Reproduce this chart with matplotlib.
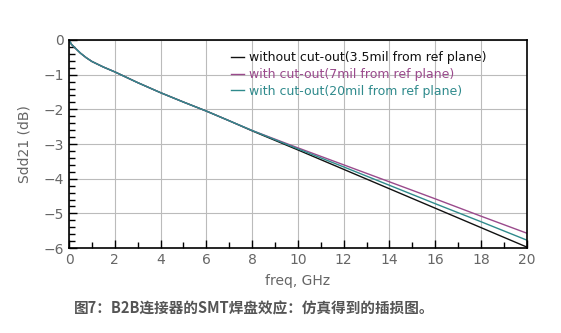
import matplotlib
matplotlib.use('Agg')
import matplotlib.pyplot as plt
from matplotlib.ticker import MultipleLocator

freq = [0, 0.1, 0.25, 0.5, 0.75, 1, 1.5, 2, 3, 4, 5, 6, 7, 8, 10, 12, 14, 16, 18, 20]
no_cut = [0, -0.12, -0.22, -0.38, -0.51, -0.62, -0.78, -0.92, -1.23, -1.52, -1.79, -2.05, -2.33,
          -2.62, -3.17, -3.73, -4.29, -4.85, -5.41, -5.97]
cut_7mil = [0, -0.12, -0.22, -0.38, -0.51, -0.62, -0.78, -0.92, -1.23, -1.52, -1.79, -2.05, -2.33,
            -2.61, -3.11, -3.60, -4.09, -4.58, -5.08, -5.57]
cut_20mil = [0, -0.12, -0.22, -0.38, -0.51, -0.62, -0.78, -0.92, -1.23, -1.52, -1.79, -2.05, -2.33,
             -2.61, -3.14, -3.66, -4.19, -4.72, -5.24, -5.77]
labels = ['without cut-out(3.5mil from ref plane)',
          'with cut-out(7mil from ref plane)',
          'with cut-out(20mil from ref plane)']
colors = ['#111111', '#9a4a8c', '#2f8a8c']
caption = '图7：B2B连接器的SMT焊盘效应：仿真得到的插损图。'

fig = plt.figure(figsize=(5.61, 3.33), dpi=100)
ax = fig.add_axes([0.123, 0.255, 0.816, 0.625])

for y, c, lab in zip([no_cut, cut_7mil, cut_20mil], colors, labels):
    ax.plot(freq, y, color=c, lw=1.0, label=lab)

ax.set_xlim(0, 20)
ax.set_ylim(-6, 0)
ax.xaxis.set_major_locator(MultipleLocator(2))
ax.xaxis.set_minor_locator(MultipleLocator(1))
ax.yaxis.set_major_locator(MultipleLocator(1))
ax.yaxis.set_minor_locator(MultipleLocator(0.2))
ax.grid(True, which='major', color='#bbbbbb', lw=0.8)
ax.tick_params(which='both', direction='in', colors='black', labelcolor='#666666',
               labelsize=10, top=False, right=False)
ax.tick_params(which='major', length=6, width=1)
ax.tick_params(which='minor', length=4, width=1)
for s in ax.spines.values():
    s.set_linewidth(1.2)

ax.set_xlabel('freq, GHz', color='#666666', fontsize=10, labelpad=5)
ax.set_ylabel('Sdd21 (dB)', color='#666666', fontsize=10, labelpad=9)

leg = ax.legend(loc='upper left', bbox_to_anchor=(0.33, 1.0), frameon=False,
                fontsize=9, handlelength=1.0, handletextpad=0.4, labelspacing=0.3)
for t, c in zip(leg.get_texts(), colors):
    t.set_color(c)

fig.text(0.453, 0.075, caption, ha='center', va='center', fontsize=10.5,
         fontweight='bold', color='#555555', family=['Noto Sans CJK SC', 'DejaVu Sans'])

fig.savefig('out.png', dpi=100)
